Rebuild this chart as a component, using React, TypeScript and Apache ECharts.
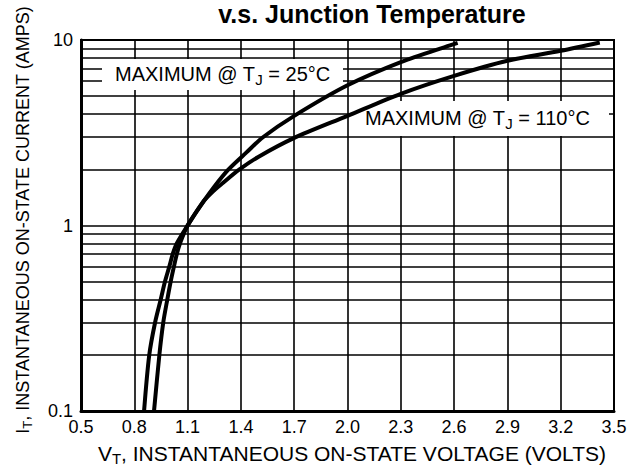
import React, { useEffect, useRef } from "react";
import * as echarts from "echarts";

// ---- data ----
const X_TICK_START = 0.5; // first x tick label (volts)
const X_TICK_STEP = 0.3;
const X_TICK_END = 3.5;
const Y_MIN = 0.1;
const Y_MAX = 10;
const Y_MINOR_GRID = [0.2, 0.3, 0.4, 0.5, 0.6, 0.7, 0.8, 0.9, 2, 3, 4, 5, 6, 7, 8, 9];

// Maximum @ TJ = 25°C
const V_25 = [0.911, 0.941, 0.963, 0.986, 1.005, 1.023, 1.039, 1.057, 1.1, 1.19, 1.25, 1.329, 1.43, 1.526, 1.7, 2.0, 2.3, 2.577, 2.62];
const I_25 = [0.1, 0.2, 0.3, 0.4, 0.5, 0.6, 0.7, 0.8, 1.0, 1.35, 1.62, 2.0, 2.47, 3.0, 3.9, 5.7, 7.6, 9.36, 9.65];

// Maximum @ TJ = 110°C
const V_110 = [0.855, 0.884, 0.917, 0.949, 0.973, 0.997, 1.016, 1.039, 1.1, 1.19, 1.25, 1.3, 1.39, 1.5, 1.695, 2.0, 2.3, 2.6, 2.9, 3.2, 3.42];
const I_110 = [0.1, 0.2, 0.3, 0.4, 0.5, 0.6, 0.7, 0.8, 1.0, 1.35, 1.55, 1.7, 2.0, 2.35, 2.95, 3.9, 5.13, 6.41, 7.73, 8.75, 9.7];

const TITLE = "v.s. Junction Temperature";
const LABEL_25 = ["MAXIMUM @ T", "J", " = 25°C"];
const LABEL_110 = ["MAXIMUM @ T", "J", " = 110°C"];
const X_NAME = ["V", "T", ", INSTANTANEOUS ON-STATE VOLTAGE (VOLTS)"];
const Y_NAME = ["I", "T", ", INSTANTANEOUS ON-STATE CURRENT (AMPS)"];

const FONT = "'Liberation Sans', Arial, Helvetica, sans-serif";

// x axis is shifted so that tick counting starts at 0 (a multiple of the step)
const toX = (v: number) => +(v - X_TICK_START).toFixed(4);
const pairs = (xs: number[], ys: number[]) => xs.map((x, i) => [toX(x), ys[i]]);

function subText(parts: string[], size: number, subSize: number, shift: number) {
  return {
    text: `{n|${parts[0]}}{s|${parts[1]}}{n|${parts[2]}}`,
    rich: {
      n: { fontSize: size, fontFamily: FONT, fill: "#000" },
      s: { fontSize: subSize, fontFamily: FONT, fill: "#000", padding: [shift * 2, 0, 0, 0] },
    },
  };
}

export default function App() {
  const ref = useRef<HTMLDivElement>(null);
  useEffect(() => {
    if (!ref.current) return;
    const chart = echarts.init(ref.current, undefined, { renderer: "svg" });
    const curveStyle = { color: "#000", width: 4 };
    chart.setOption({
      animation: false,
      backgroundColor: "#fff",
      grid: {
        left: 81,
        top: 40,
        width: 533,
        height: 371,
        show: true,
        borderColor: "#000",
        borderWidth: 2,
        backgroundColor: "transparent",
      },
      xAxis: {
        type: "value",
        min: 0,
        max: toX(X_TICK_END),
        interval: X_TICK_STEP,
        axisLine: { show: true, onZero: false, lineStyle: { color: "#000", width: 3 } },
        axisTick: { show: false },
        axisLabel: {
          color: "#000",
          fontSize: 18,
          fontFamily: FONT,
          margin: 7,
          formatter: (v: number) => (v + X_TICK_START).toFixed(1),
        },
        splitLine: { show: true, lineStyle: { color: "#000", width: 1.6 } },
      },
      yAxis: {
        type: "log",
        logBase: 10,
        min: Y_MIN,
        max: Y_MAX,
        axisLine: { show: true, lineStyle: { color: "#000", width: 3 } },
        axisTick: { show: false },
        axisLabel: {
          color: "#000",
          fontSize: 18,
          fontFamily: FONT,
          margin: 8,
          formatter: (v: number) => (v < 1 ? v.toFixed(1) : String(Math.round(v))),
        },
        splitLine: { show: true, lineStyle: { color: "#000", width: 1.6 } },
      },
      series: [
        {
          type: "line",
          data: [],
          z: 1,
          silent: true,
          markLine: {
            silent: true,
            symbol: "none",
            label: { show: false },
            lineStyle: { color: "#000", width: 1.6, type: "solid" },
            data: Y_MINOR_GRID.map((v) => ({ yAxis: v })),
          },
        },
        {
          name: "25",
          type: "line",
          z: 200,
          data: pairs(V_25, I_25),
          showSymbol: false,
          smooth: 0.3,
          lineStyle: curveStyle,
        },
        {
          name: "110",
          type: "line",
          z: 200,
          data: pairs(V_110, I_110),
          showSymbol: false,
          smooth: 0.3,
          lineStyle: curveStyle,
        },
      ],
      graphic: {
        z: 100,
        elements: [
          {
            type: "text",
            z: 120,
            style: {
              text: TITLE,
              x: 372,
              y: 14,
              fontSize: 25,
              fontWeight: "bold",
              fontFamily: FONT,
              fill: "#000",
              align: "center",
              verticalAlign: "middle",
            },
          },
          { type: "rect", z: 100, shape: { x: 102, y: 59, width: 241, height: 31 }, style: { fill: "#fff" } },
          {
            type: "text",
            z: 110,
            style: { ...subText(LABEL_25, 20, 15, 5), x: 115, y: 74, align: "left", verticalAlign: "middle" },
          },
          { type: "rect", z: 100, shape: { x: 352, y: 101, width: 257, height: 35 }, style: { fill: "#fff" } },
          {
            type: "text",
            z: 110,
            style: { ...subText(LABEL_110, 20, 15, 5), x: 365, y: 118, align: "left", verticalAlign: "middle" },
          },
          {
            type: "text",
            z: 110,
            style: { ...subText(X_NAME, 21, 15, 5), x: 352, y: 453, align: "center", verticalAlign: "middle" },
          },
          {
            type: "text",
            z: 110,
            rotation: Math.PI / 2,
            x: 23,
            y: 220,
            style: { ...subText(Y_NAME, 18, 13, 4), x: 0, y: 0, align: "center", verticalAlign: "middle" },
          },
        ],
      },
    });
    return () => chart.dispose();
  }, []);
  return (
    <div
      ref={ref}
      style={{ position: "fixed", left: 0, top: 0, width: 638, height: 468, background: "#fff" }}
    />
  );
}
